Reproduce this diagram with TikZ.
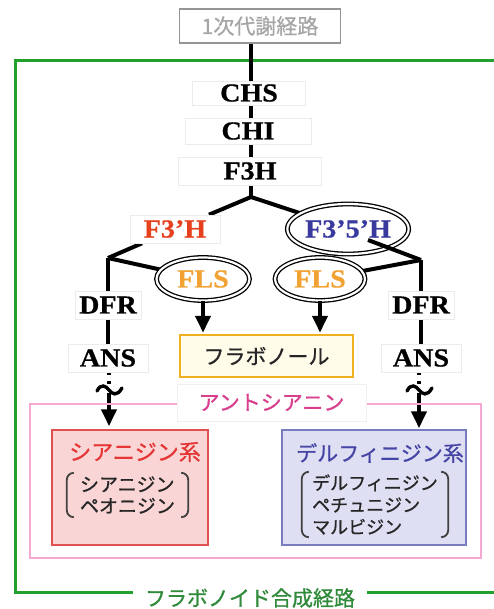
\documentclass[tikz,border=0pt]{standalone}
\usepackage{fontspec}
\newfontfamily\jp[FakeBold=0.9]{Noto Sans CJK JP}
\newfontfamily\en[FakeStretch=1.08,FakeBold=0.6]{Liberation Serif}
\usetikzlibrary{shapes.geometric,arrows.meta,calc}
\pgfdeclarelayer{frames}
\pgfdeclarelayer{links}
\pgfsetlayers{frames,links,main}

\definecolor{primgray}{HTML}{A6A6A6}
\definecolor{f3red}{HTML}{E6401E}
\definecolor{f35blue}{HTML}{3A3A9E}
\definecolor{flsorange}{HTML}{F2A232}
\definecolor{flavedge}{HTML}{F0B020}
\definecolor{flavfill}{HTML}{FFFCEA}
\definecolor{anthopink}{HTML}{F4A8D2}
\definecolor{anthotext}{HTML}{D8408E}
\definecolor{cyfill}{HTML}{FAD5D5}
\definecolor{cyedge}{HTML}{E05050}
\definecolor{cytext}{HTML}{E53535}
\definecolor{dfill}{HTML}{DEDFF3}
\definecolor{dedge}{HTML}{7A7CC0}
\definecolor{dtext}{HTML}{4545A5}
\definecolor{pathgreen}{HTML}{22A02E}
\definecolor{pathtext}{HTML}{2F8A3A}

\tikzset{
  enz/.style={fill=white, draw=black!8, line width=0.6, inner sep=0,
    font=\en\bfseries\fontsize{26}{26}\selectfont},
  ring/.style={ellipse, draw=black, line width=1.3, double=white,
    double distance=2.2, fill=white, inner sep=0,
    font=\en\bfseries\fontsize{26}{26}\selectfont},
  jptxt/.style={font=\jp\fontsize{21}{21}\selectfont},
  link/.style={line width=4, black},
  ptr/.style={link, -{Triangle[width=15pt,length=17pt]}},
  dotlink/.style={line width=4, dash pattern=on 3pt off 6pt},
  squig/.style={line width=3.4, line cap=round},
  brk/.style={line width=1.8, black!75, rounded corners=7},
}

\begin{document}
\begin{tikzpicture}[x=1pt,y=-1pt]
\useasboundingbox (0,0) rectangle (494,609);

% outer flavonoid pathway frame (open to the right)
\begin{pgfonlayer}{frames}
  \draw[pathgreen, line width=3] (497,61) -| (15,592) -- (497,592);
\end{pgfonlayer}

% primary metabolism
\node[jptxt, text=primgray, draw=primgray!90!black, line width=1.5,
      minimum width=161, minimum height=34, inner sep=0] (prim) at (260,26) {1次代謝経路};

% main enzyme chain
\node[enz, minimum width=113, minimum height=24] (chs) at (249,93) {CHS};
\node[enz, minimum width=126, minimum height=26] (chi) at (248,131) {CHI};
\node[enz, minimum width=143, minimum height=28] (f3h) at (250,171) {F3H};
\node[enz, minimum width=90, minimum height=28, text=f3red] (f3ph) at (175,229) {F3’H};
\node[ring, minimum width=116, minimum height=50, text=f35blue] (f35h) at (348,229) {F3’5’H};
\node[ring, minimum width=93, minimum height=43, text=flsorange] (flsL) at (203,279) {FLS};
\node[ring, minimum width=90, minimum height=43, text=flsorange] (flsR) at (320,279) {FLS};
\node[enz, minimum width=66, minimum height=28] (dfrL) at (108,305) {DFR};
\node[enz, minimum width=66, minimum height=28] (dfrR) at (421,305) {DFR};
\node[enz, minimum width=80, minimum height=28] (ansL) at (108,358) {ANS};
\node[enz, minimum width=80, minimum height=28] (ansR) at (421,358) {ANS};

% flavonol product
\node[jptxt, fill=flavfill, draw=flavedge, line width=2.5, text=black!85,
      minimum width=173, minimum height=42, inner sep=0] (flav) at (266.5,356) {フラボノール};

% anthocyanin group
\node[draw=anthopink, line width=2.5, minimum width=451, minimum height=154,
      inner sep=0] (antho) at (255.5,481) {};
\node[jptxt, fill=white, draw=black!6, line width=0.6, text=anthotext,
      minimum width=189, minimum height=37, inner sep=0] (antlab) at (271.5,402.5) {アントシアニン};

\node[fill=cyfill, draw=cyedge, line width=1.5, minimum width=156,
      minimum height=115, inner sep=0] (cybox) at (130,487.5) {};
\node[fill=dfill, draw=dedge, line width=1.5, minimum width=184,
      minimum height=115, inner sep=0] (dbox) at (374,487.5) {};

\node[font=\jp\fontsize{22}{22}\selectfont, text=cytext, inner sep=0] (cytitle) at (135,452) {シアニジン系};
\node[font=\jp\fontsize{21}{21}\selectfont, text=dtext, inner sep=0] (dtitle) at (380,453) {デルフィニジン系};

\node[font=\jp\fontsize{19}{21.5}\selectfont, text=black!85, align=left,
      minimum width=121, minimum height=44, inner sep=0] (cylist) at (127.5,495) {シアニジン\\ペオニジン};
\node[font=\jp\fontsize{18}{22}\selectfont, text=black!85, align=left,
      minimum width=146, minimum height=65, inner sep=0] (dlist) at (375,504.5) {デルフィニジン\\ペチュニジン\\マルビジン};

\foreach \n in {cylist,dlist}{
  \draw[brk] ($(\n.north west)+(7,0)$) -- (\n.north west) -- (\n.south west) -- ($(\n.south west)+(7,0)$);
  \draw[brk] ($(\n.north east)+(-7,0)$) -- (\n.north east) -- (\n.south east) -- ($(\n.south east)+(-7,0)$);
}

% pathway label on the frame
\node[font=\jp\fontsize{21}{21}\selectfont, text=pathtext, fill=white,
      minimum width=234, minimum height=26, inner sep=0] (flvlab) at (250,598) {フラボノイド合成経路};

% branching points and wavy marks
\coordinate (j0) at (251,197);
\coordinate (jL) at (108,258);
\coordinate (jR) at (421,260);
\coordinate (sqL) at (109,390);
\coordinate (sqR) at (419,390);

\begin{pgfonlayer}{links}
  \draw[link] (prim.south -| j0) -- (j0);
  \draw[link] (j0) -- (f3ph);
  \draw[link] (j0) -- (f35h);
  \draw[link] (f3ph) -- (jL);
  \draw[link] (jL) -- (flsL);
  \draw[link] (jL) -- (ansL);
  \draw[link] (jR) -- (flsR);
  \draw[link] (jR) -- (ansR);
  \draw[dotlink] (ansL.south -| sqL) -- ($(sqL)+(0,-4)$);
  \draw[dotlink] (ansR.south -| sqR) -- ($(sqR)+(0,-4)$);
  \draw[ptr, shorten >=3pt] ($(sqL)+(0,3)$) -- (sqL |- cybox.north);
  \draw[ptr, shorten >=1pt] ($(sqR)+(0,3)$) -- (sqR |- dbox.north);
\end{pgfonlayer}

\draw[link] ($(f35h.center)+(20,11)$) -- (jR);
\draw[ptr, shorten >=1pt] (flsL.south) -- (flsL.south |- flav.north);
\draw[ptr, shorten >=1pt] (flsR.south) -- (flsR.south |- flav.north);

\foreach \c in {sqL,sqR}{
  \draw[squig] ($(\c)+(-12,1)$) .. controls ($(\c)+(-8,-7)$) and ($(\c)+(-3,-4)$) .. (\c)
    .. controls ($(\c)+(3,4)$) and ($(\c)+(8,7)$) .. ($(\c)+(13,-2)$);
}
\end{tikzpicture}
\end{document}
